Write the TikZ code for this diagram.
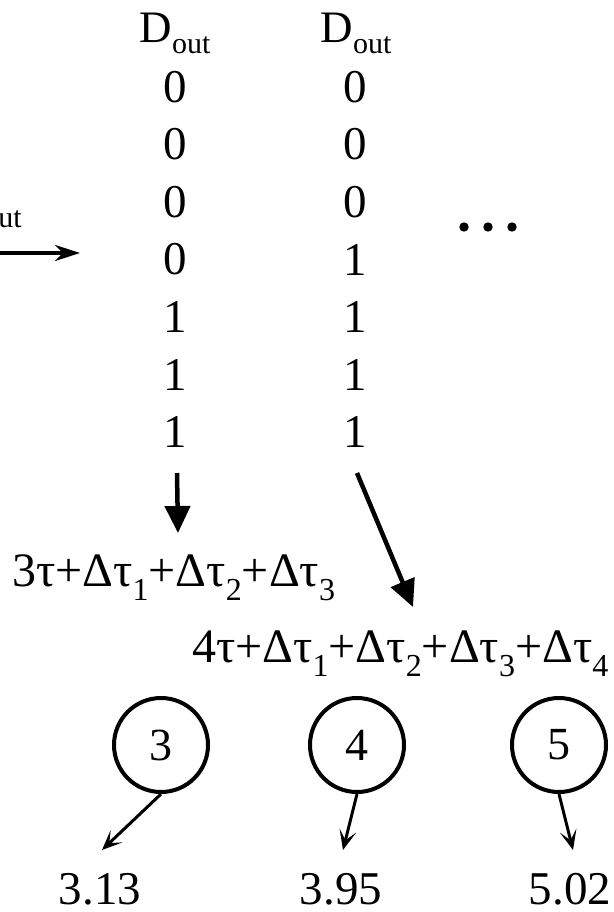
\documentclass[tikz,border=0pt]{standalone}
\usepackage{fontspec}
\setmainfont{Liberation Serif}
\usetikzlibrary{arrows.meta}
\newcommand\myDout{D\raisebox{-11pt}{\fontsize{30}{30}\selectfont out}}
\newcommand\mysb[1]{\raisebox{-14pt}{\fontsize{32}{32}\selectfont #1}}
\tikzset{
  big/.style={font=\fontsize{47}{50}\selectfont, inner sep=0pt},
  hdr/.style={font=\fontsize{45}{50}\selectfont, inner sep=0pt},
  frm/.style={font=\fontsize{48}{50}\selectfont, inner sep=0pt, anchor=base west},
  lbl/.style={font=\fontsize{47}{50}\selectfont, inner sep=0pt, anchor=base},
  num/.style={circle, draw, line width=4pt, minimum size=94pt, inner sep=0pt, font=\fontsize{46}{50}\selectfont},
  bigarrow/.style={line width=4.5pt, -{Triangle[length=27pt,width=25pt]}},
  sidearrow/.style={line width=4pt, -{Stealth[length=25pt,width=16pt,inset=8pt]}},
  thinarrow/.style={line width=3pt, -{Stealth[length=20pt,width=17pt,inset=10pt]}},
}
\begin{document}
\begin{tikzpicture}[x=1pt,y=-1pt]
\useasboundingbox (0,0) rectangle (613,912);
% headers
\node[hdr, anchor=base] (h1) at (175,43) {\myDout};
\node[hdr, anchor=base] (h2) at (356,43) {\myDout};
\node[hdr, anchor=base east] (h0) at (22,216) {\myDout};
% columns
\foreach \i/\a/\b in {1/0/0,2/0/0,3/0/0,4/0/1,5/1/1,6/1/1,7/1/1}{
  \node[big] (l\i) at (175,{87+57.5*(\i-1)}) {\a};
  \node[big] (r\i) at (355,{87+57.5*(\i-1)}) {\b};
}
% dots
\foreach \x in {464,488,512}{ \fill (\x,227) circle (4.7pt); }
% left arrow
\coordinate (ls) at (-5,253);
\coordinate (le) at (80,253);
\draw[sidearrow] (ls) -- (le);
% down arrows
\coordinate (a1s) at (177,473);
\coordinate (a1e) at (178,533);
\coordinate (a2s) at (357,473);
\coordinate (a2e) at (413,607);
\draw[bigarrow] (a1s) -- (a1e);
\draw[bigarrow] (a2s) -- (a2e);
% formulas
\node[frm] (f1) at (12,586) {3τ+Δτ\mysb{1}+Δτ\mysb{2}+Δτ\mysb{3}};
\node[frm] (f2) at (192,662) {4τ+Δτ\mysb{1}+Δτ\mysb{2}+Δτ\mysb{3}+Δτ\mysb{4}};
% circles
\node[num] (c3) at (161,745) {3};
\node[num] (c4) at (357,745) {4};
\node[num] (c5) at (559,745) {5};
\node[lbl] (v3) at (100,904) {3.13};
\node[lbl] (v4) at (341,904) {3.95};
\node[lbl] (v5) at (570,904) {5.02};
\coordinate (t3) at (102,850);
\coordinate (t4) at (343,850);
\coordinate (t5) at (573,850);
\draw[thinarrow] (c3.south) -- (t3);
\draw[thinarrow] (c4.south) -- (t4);
\draw[thinarrow] (c5.south) -- (t5);
\end{tikzpicture}
\end{document}
